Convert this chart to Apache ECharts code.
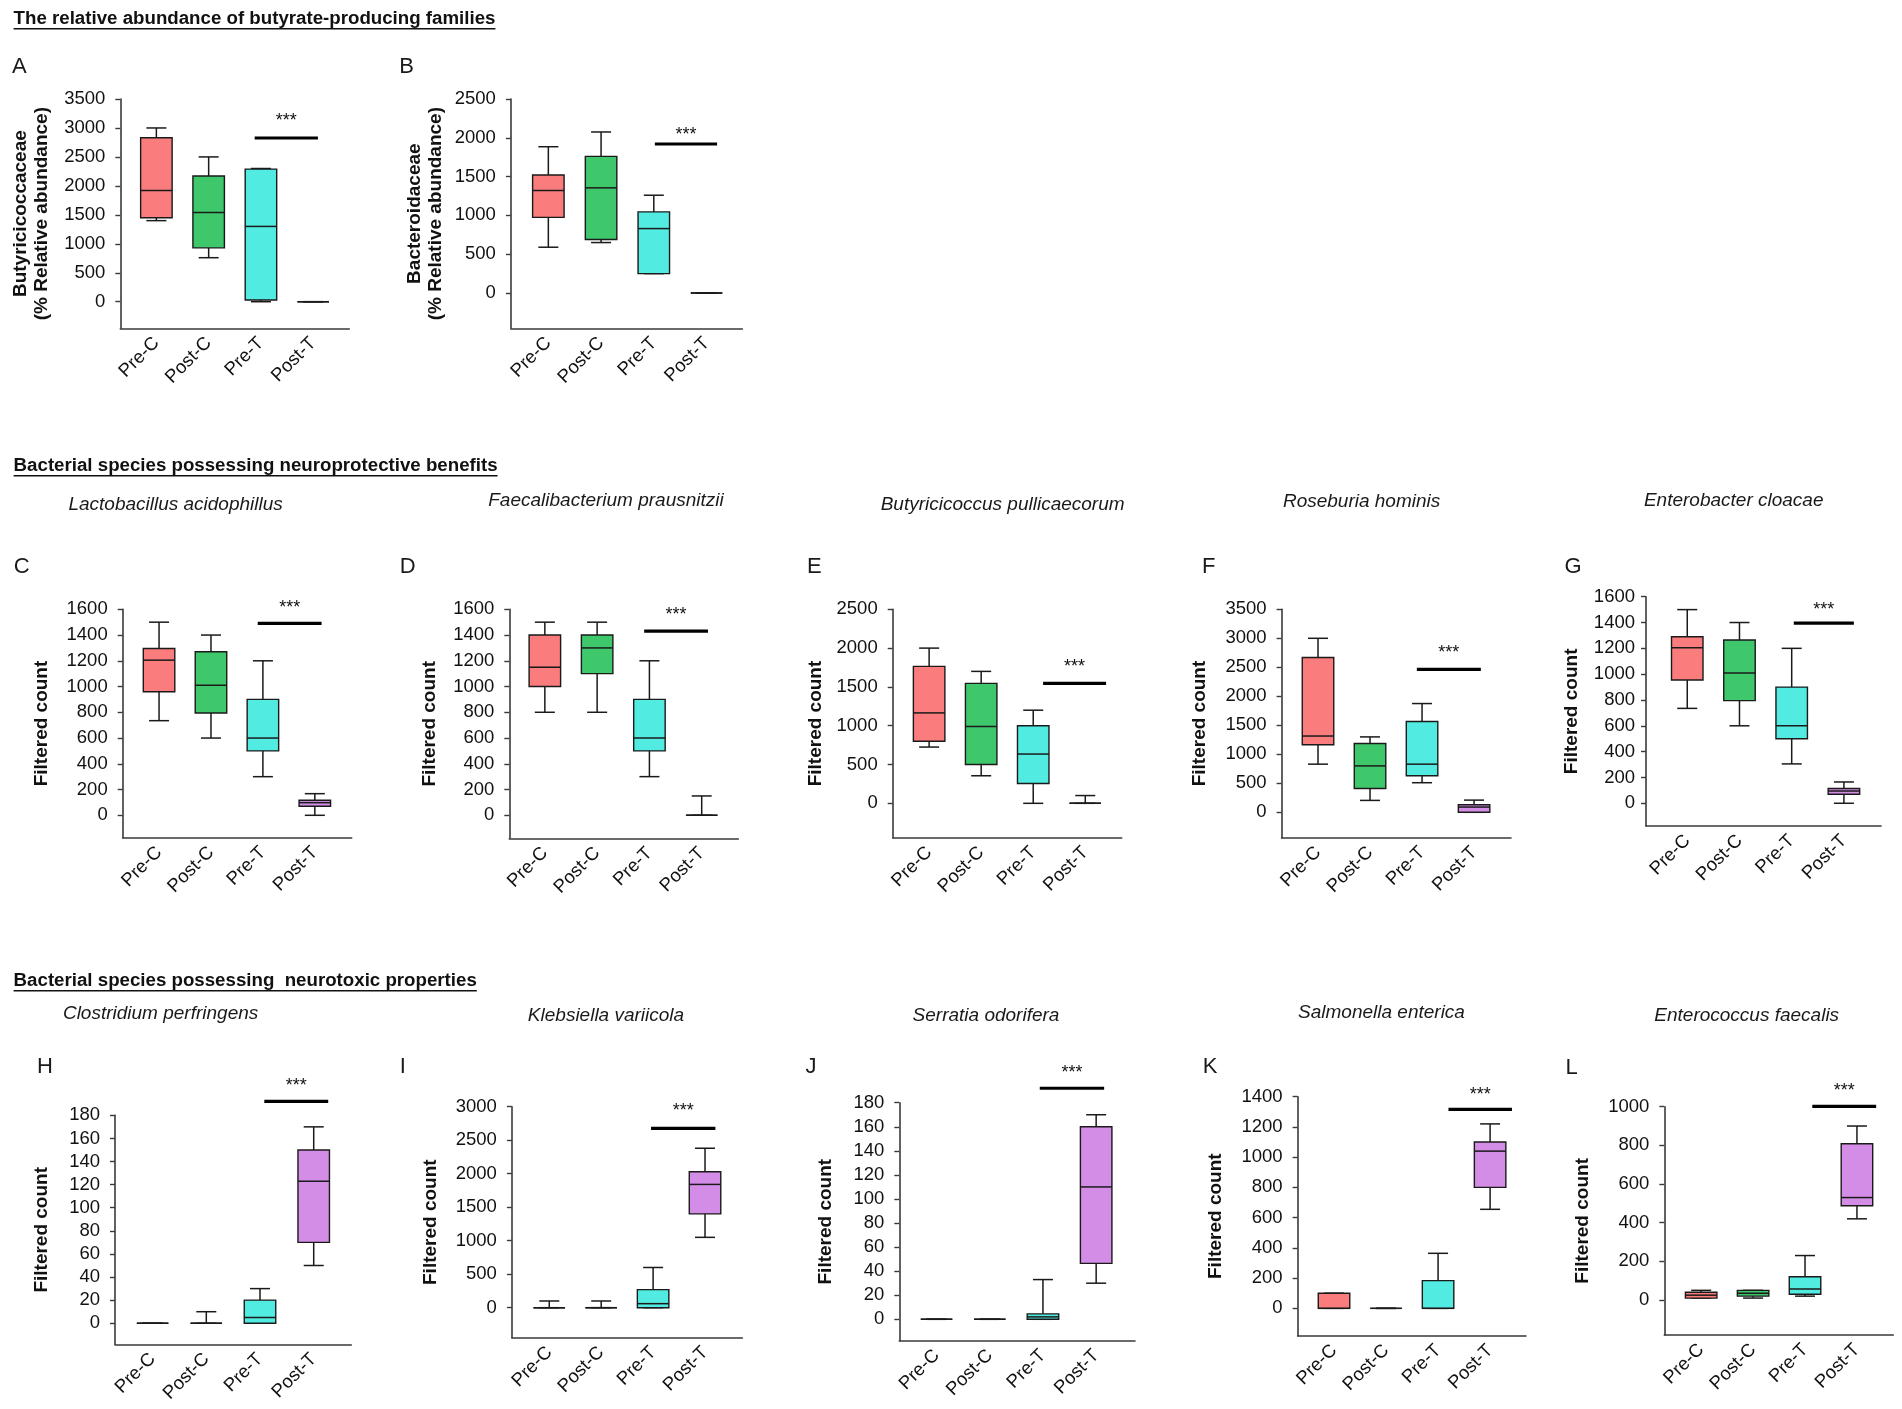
<!DOCTYPE html>
<html lang="en">
<head>
<meta charset="UTF-8">
<title>Butyrate-producing families and neuroactive bacterial species</title>
<script src="https://cdn.jsdelivr.net/npm/echarts@6/dist/echarts.min.js"></script>
<style>
    html, body { margin: 0; padding: 0; background: #fff; }
    #main { width: 1902px; height: 1409px; }
</style>
</head>
<body>
<div id="main"></div>
<script type="text/javascript">
    // groups on every x axis
    var groups = ['Pre-C', 'Post-C', 'Pre-T', 'Post-T'];

    // box values per group: [min, Q1, median, Q3, max]
    var statsA = [[1400, 1450, 1920, 2830, 3000], [760, 930, 1540, 2170, 2500], [0, 30, 1300, 2290, 2300], [0, 0, 0, 0, 0]];
    var statsB = [[590, 975, 1320, 1520, 1885], [650, 690, 1355, 1760, 2075], [250, 250, 830, 1045, 1260], [0, 0, 0, 0, 0]];
    var statsC = [[735, 960, 1205, 1295, 1500], [600, 795, 1010, 1270, 1400], [300, 500, 600, 900, 1200], [0, 70, 98, 117, 168]];
    var statsD = [[800, 1000, 1150, 1400, 1500], [800, 1100, 1300, 1400, 1500], [300, 500, 600, 900, 1200], [0, 0, 0, 0, 150]];
    var statsE = [[725, 800, 1165, 1765, 2000], [355, 500, 990, 1545, 1700], [0, 255, 635, 1000, 1200], [0, 0, 0, 0, 100]];
    var statsF = [[830, 1165, 1315, 2670, 3000], [205, 410, 800, 1185, 1300], [510, 630, 830, 1565, 1875], [0, 0, 90, 130, 210]];
    var statsG = [[735, 955, 1205, 1290, 1500], [600, 795, 1010, 1265, 1400], [305, 500, 600, 900, 1200], [0, 70, 95, 115, 165]];
    var statsH = [[0, 0, 0, 0, 0], [0, 0, 0, 0, 10], [0, 0, 5, 20, 30], [50, 70, 123, 150, 170]];
    var statsI = [[0, 0, 0, 0, 100], [0, 0, 0, 0, 100], [0, 0, 60, 270, 600], [1050, 1400, 1840, 2030, 2380]];
    var statsJ = [[0, 0, 0, 0, 0], [0, 0, 0, 0, 0], [0, 0, 2, 4.5, 33], [30, 46.5, 110, 160, 170]];
    var statsK = [[0, 0, 0, 100, 100], [0, 0, 0, 0, 0], [0, 0, 0, 183, 364], [655, 800, 1040, 1100, 1220]];
    var statsL = [[10, 10, 25, 40, 50], [10, 20, 35, 50, 50], [20, 30, 57, 120, 230], [420, 488, 530, 808, 900]];

    // significance bar: [from group, to group, bar value, *** value]
    var sigA = [1.88, 3.09, 2827, 3184];
    var sigB = [2.02, 3.20, 1920, 2092];
    var sigC = [1.90, 3.13, 1491, 1641];
    var sigD = [1.90, 3.12, 1431, 1590];
    var sigE = [2.19, 3.40, 1546, 1813];
    var sigF = [1.90, 3.13, 2465, 2810];
    var sigG = [2.04, 3.19, 1396, 1530];
    var sigH = [2.08, 3.27, 192, 208.6];
    var sigI = [1.96, 3.20, 2677, 2990];
    var sigJ = [1.94, 3.15, 192, 207.7];
    var sigK = [2.20, 3.42, 1316, 1437];
    var sigL = [2.14, 3.37, 1002, 1102];

    // y tick labels
    var ticks500to3500 = [0, 500, 1000, 1500, 2000, 2500, 3000, 3500];
    var ticks500to3000 = [0, 500, 1000, 1500, 2000, 2500, 3000];
    var ticks500to2500 = [0, 500, 1000, 1500, 2000, 2500];
    var ticks200to1600 = [0, 200, 400, 600, 800, 1000, 1200, 1400, 1600];
    var ticks200to1400 = [0, 200, 400, 600, 800, 1000, 1200, 1400];
    var ticks200to1000 = [0, 200, 400, 600, 800, 1000];
    var ticks20to180 = [0, 20, 40, 60, 80, 100, 120, 140, 160, 180];

    var sectionTitles = [
        'The relative abundance of butyrate-producing families',
        'Bacterial species possessing neuroprotective benefits',
        'Bacterial species possessing  neurotoxic properties'
    ];

    var FONT = '"Liberation Sans", Arial, Helvetica, sans-serif';
    var groupColors = ['#fb7c7c', '#3fc76c', '#52ebe1', '#d48de6'];
    var INK = '#1a1a1a';

    // panel layout, in page pixels
    var panels = [
        {letter: 'A', stats: statsA, sig: sigA, ticks: ticks500to3500, yName: 'Butyricicoccaceae\n(% Relative abundance)', title: '',
            left: 120.3, right: 349.3, top: 99, bottom: 328.3, xMin: -0.69, xMax: 3.69, yMin: -459, yMax: 3500, gap: 68, lp: [19.4, 66.7], tp: null},
        {letter: 'B', stats: statsB, sig: sigB, ticks: ticks500to2500, yName: 'Bacteroidaceae\n(% Relative abundance)', title: '',
            left: 510.9, right: 742.4, top: 99, bottom: 328.3, xMin: -0.71, xMax: 3.68, yMin: -455, yMax: 2500, gap: 64.6, lp: [406.6, 66.7], tp: null},
        {letter: 'C', stats: statsC, sig: sigC, ticks: ticks200to1600, yName: 'Filtered count', title: 'Lactobacillus acidophillus',
            left: 122.7, right: 351.7, top: 609.3, bottom: 837.7, xMin: -0.70, xMax: 3.71, yMin: -174, yMax: 1600, gap: 70.5, lp: [21.8, 567.3], tp: [175.6, 504.3]},
        {letter: 'D', stats: statsD, sig: sigD, ticks: ticks200to1600, yName: 'Filtered count', title: 'Faecalibacterium prausnitzii',
            left: 509.3, right: 738.3, top: 609.3, bottom: 838.3, xMin: -0.68, xMax: 3.70, yMin: -179, yMax: 1600, gap: 68.8, lp: [407.6, 567.3], tp: [606, 500.7]},
        {letter: 'E', stats: statsE, sig: sigE, ticks: ticks500to2500, yName: 'Filtered count', title: 'Butyricicoccus pullicaecorum',
            left: 892.7, right: 1121.7, top: 609.3, bottom: 837.7, xMin: -0.70, xMax: 3.70, yMin: -443, yMax: 2500, gap: 66.7, lp: [814.3, 567.3], tp: [1002.6, 504.3]},
        {letter: 'F', stats: statsF, sig: sigF, ticks: ticks500to3500, yName: 'Filtered count', title: 'Roseburia hominis',
            left: 1281.6, right: 1511, top: 609.3, bottom: 837.7, xMin: -0.70, xMax: 3.71, yMin: -438, yMax: 3500, gap: 71, lp: [1208.8, 567.3], tp: [1361.6, 501.7]},
        {letter: 'G', stats: statsG, sig: sigG, ticks: ticks200to1600, yName: 'Filtered count', title: 'Enterobacter cloacae',
            left: 1646, right: 1881, top: 596.7, bottom: 826, xMin: -0.79, xMax: 3.71, yMin: -176, yMax: 1600, gap: 63.8, lp: [1573, 567], tp: [1733.7, 500.7], labelMargin: 11},
        {letter: 'H', stats: statsH, sig: sigH, ticks: ticks20to180, yName: 'Filtered count', title: 'Clostridium perfringens',
            left: 115, right: 351.3, top: 1115.3, bottom: 1344.3, xMin: -0.70, xMax: 3.70, yMin: -18.2, yMax: 180, gap: 62.3, lp: [45, 1067], tp: [160.6, 1014]},
        {letter: 'I', stats: statsI, sig: sigI, ticks: ticks500to3000, yName: 'Filtered count', title: 'Klebsiella variicola',
            left: 511.9, right: 742.4, top: 1106.7, bottom: 1337.7, xMin: -0.72, xMax: 3.72, yMin: -448, yMax: 3000, gap: 70.5, lp: [402.7, 1067], tp: [606, 1016]},
        {letter: 'J', stats: statsJ, sig: sigJ, ticks: ticks20to180, yName: 'Filtered count', title: 'Serratia odorifera',
            left: 899.3, right: 1135, top: 1102.7, bottom: 1340.7, xMin: -0.70, xMax: 3.73, yMin: -17.8, yMax: 180, gap: 63.3, lp: [811, 1067], tp: [986, 1016]},
        {letter: 'K', stats: statsK, sig: sigK, ticks: ticks200to1400, yName: 'Filtered count', title: 'Salmonella enterica',
            left: 1297.6, right: 1526, top: 1096.7, bottom: 1335.7, xMin: -0.70, xMax: 3.69, yMin: -181, yMax: 1400, gap: 71, lp: [1210, 1067], tp: [1381.5, 1013]},
        {letter: 'L', stats: statsL, sig: sigL, ticks: ticks200to1000, yName: 'Filtered count', title: 'Enterococcus faecalis',
            left: 1664.3, right: 1893.3, top: 1106.7, bottom: 1335, xMin: -0.71, xMax: 3.70, yMin: -181, yMax: 1000, gap: 71, lp: [1571.7, 1068], tp: [1746.7, 1016]}
    ];
    var sectionRows = [19, 466, 981];

    function renderBox(params, api) {
        var i = api.value(0);
        var yLo = api.coord([i, api.value(1)])[1];
        var yQ1 = api.coord([i, api.value(2)])[1];
        var mid = api.coord([i, api.value(3)]);
        var yQ3 = api.coord([i, api.value(4)])[1];
        var yHi = api.coord([i, api.value(5)])[1];
        var x = mid[0];
        var bw = 31.5, cw = 20;
        var ls = {stroke: INK, lineWidth: 1.5};
        return {
            type: 'group',
            children: [
                {type: 'line', shape: {x1: x, y1: yQ3, x2: x, y2: yHi}, style: ls},
                {type: 'line', shape: {x1: x, y1: yQ1, x2: x, y2: yLo}, style: ls},
                {type: 'line', shape: {x1: x - cw / 2, y1: yHi, x2: x + cw / 2, y2: yHi}, style: ls},
                {type: 'line', shape: {x1: x - cw / 2, y1: yLo, x2: x + cw / 2, y2: yLo}, style: ls},
                {type: 'rect', shape: {x: x - bw / 2, y: yQ3, width: bw, height: yQ1 - yQ3},
                    style: {fill: groupColors[i], stroke: INK, lineWidth: 1.4}},
                {type: 'line', shape: {x1: x - bw / 2, y1: mid[1], x2: x + bw / 2, y2: mid[1]}, style: ls}
            ]
        };
    }

    function renderSig(params, api) {
        var a = api.coord([api.value(0), api.value(2)]);
        var b = api.coord([api.value(1), api.value(2)]);
        var s = api.coord([(api.value(0) + api.value(1)) / 2, api.value(3)]);
        return {
            type: 'group',
            children: [
                {type: 'line', shape: {x1: a[0], y1: a[1], x2: b[0], y2: b[1]}, style: {stroke: '#000', lineWidth: 3.2}},
                {type: 'text', x: s[0], y: s[1] + 4,
                    style: {text: '***', align: 'center', verticalAlign: 'middle', fontSize: 18, fontFamily: FONT, fill: '#111'}}
            ]
        };
    }

    var measureCtx = document.createElement('canvas').getContext('2d');
    measureCtx.font = 'bold 18.7px ' + FONT;

    var grid = [], xAxis = [], yAxis = [], series = [], graphic = [];

    sectionTitles.forEach(function (t, r) {
        var w = measureCtx.measureText(t).width;
        graphic.push({type: 'text', x: 13.6, y: sectionRows[r],
            style: {text: t, font: 'bold 18.7px ' + FONT, fill: '#111', verticalAlign: 'middle'}});
        graphic.push({type: 'rect', shape: {x: 13.6, y: sectionRows[r] + 9, width: w, height: 1.6}, style: {fill: '#111'}});
    });

    panels.forEach(function (p, k) {
        grid.push({left: p.left, top: p.top, width: p.right - p.left, height: p.bottom - p.top, outerBoundsMode: 'none'});
        xAxis.push({
            gridIndex: k, type: 'value', min: p.xMin, max: p.xMax,
            axisLine: {show: true, onZero: false, lineStyle: {color: '#3a3a3a', width: 1.6}},
            axisTick: {show: false},
            splitLine: {show: false},
            axisLabel: {
                customValues: [0, 1, 2, 3],
                formatter: function (v) { return groups[Math.round(v)]; },
                rotate: 45, margin: 12, fontSize: 18.5, fontFamily: FONT, color: '#111'
            }
        });
        yAxis.push({
            gridIndex: k, type: 'value', min: p.yMin, max: p.yMax,
            axisLine: {show: true, onZero: false, lineStyle: {color: '#3a3a3a', width: 1.6}},
            axisTick: {show: true, length: 5, customValues: p.ticks, lineStyle: {color: '#3a3a3a', width: 1.4}},
            splitLine: {show: false},
            axisLabel: {
                customValues: p.ticks,
                formatter: function (v) { return String(v); },
                margin: p.labelMargin || 15, fontSize: 18.5, fontFamily: FONT, color: '#111'
            },
            name: p.yName, nameLocation: 'middle', nameRotate: 90, nameGap: p.gap,
            nameTextStyle: {fontSize: 19, fontWeight: 'bold', fontFamily: FONT, color: '#111', lineHeight: 21}
        });
        series.push({
            type: 'custom', xAxisIndex: k, yAxisIndex: k, clip: false, silent: true,
            renderItem: renderBox,
            encode: {x: 0, y: [1, 2, 3, 4, 5]},
            data: p.stats.map(function (s, i) { return [i].concat(s); })
        });
        series.push({
            type: 'custom', xAxisIndex: k, yAxisIndex: k, clip: false, silent: true,
            renderItem: renderSig,
            encode: {x: [0, 1], y: [2, 3]},
            data: [p.sig]
        });
        graphic.push({type: 'text', x: p.lp[0], y: p.lp[1],
            style: {text: p.letter, font: '22px ' + FONT, fill: '#1a1a1a', align: 'center', verticalAlign: 'middle'}});
        if (p.tp) {
            graphic.push({type: 'text', x: p.tp[0], y: p.tp[1],
                style: {text: p.title, font: 'italic 19px ' + FONT, fill: '#1a1a1a', align: 'center', verticalAlign: 'middle'}});
        }
    });

    var myChart = echarts.init(document.getElementById('main'), null, {renderer: 'canvas'});
    myChart.setOption({
        backgroundColor: '#fff',
        animation: false,
        grid: grid,
        xAxis: xAxis,
        yAxis: yAxis,
        series: series,
        graphic: graphic
    });
</script>
</body>
</html>
